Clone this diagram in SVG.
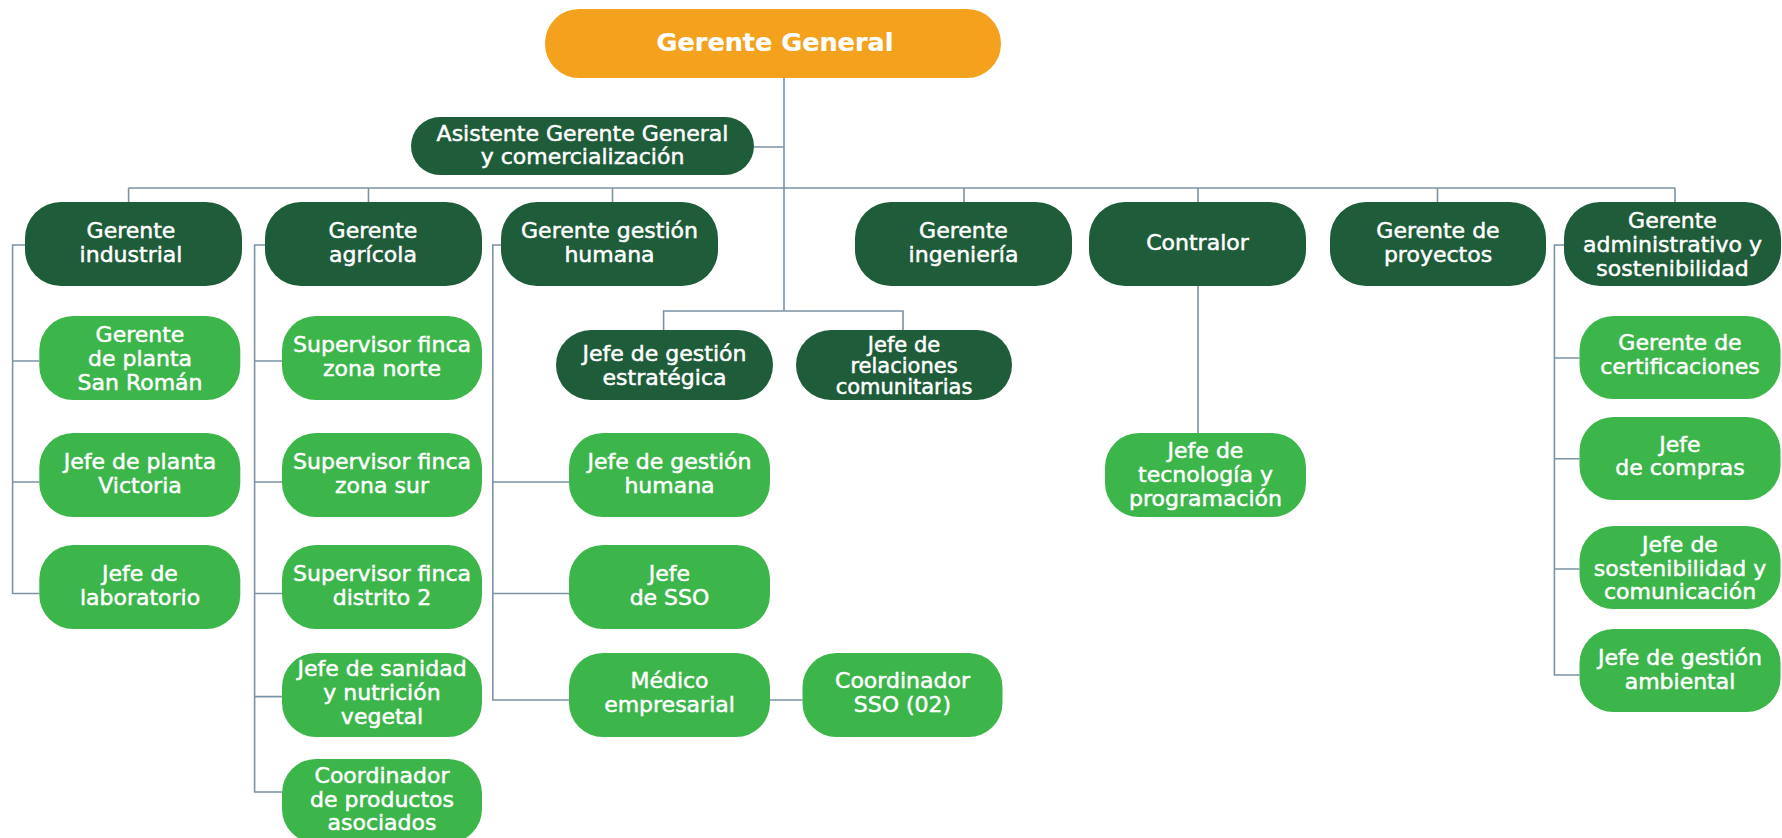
<svg xmlns="http://www.w3.org/2000/svg" width="1782" height="838" viewBox="0 0 1782 838">
<style>
.ln{fill:none;stroke:#7b93a4;stroke-width:1.6}
.top{fill:#f4a21e}
.dk{fill:#1f5c3a}
.lt{fill:#3cb54b}
text{font-family:"DejaVu Sans","Liberation Sans",sans-serif;font-size:22px;fill:#ffffff;stroke:#ffffff;stroke-width:0.5;text-anchor:middle}
.big{font-size:25.5px;font-weight:bold;stroke-width:0.2}
.tight{font-size:21px}
</style>
<rect width="1782" height="838" fill="#ffffff"/>
<g id="connectors">
<path class="ln" d="M784 78V311M754 147H784M128.6 188H1675M128.6 188V202M368.5 188V202M612.5 188V202M964 188V202M1198 188V202M1437.5 188V202M1675 188V202"/>
<path class="ln" d="M663.6 330V311H903V330"/>
<path class="ln" d="M25 245H12.6V593.5H39.3M12.6 361H39.3M12.6 482H39.3"/>
<path class="ln" d="M265 245H254.6V792H282M254.6 361H282M254.6 482H282M254.6 593.5H282M254.6 696.6H282"/>
<path class="ln" d="M501 245H492.8V700H569M492.8 482H569M492.8 593.5H569M770 700H802.5"/>
<path class="ln" d="M1198 286V433"/>
<path class="ln" d="M1564 245H1554.4V675H1579.5M1554.4 358H1579.5M1554.4 458.7H1579.5M1554.4 569H1579.5"/>
</g>
<g id="gerente-general"><rect class="top" x="545" y="9" width="456" height="69" rx="34"/><text class="big" x="775" y="51">Gerente General</text></g>
<g id="asistente"><rect class="dk" x="411" y="117" width="343" height="58" rx="29"/><text x="582.5" y="141">Asistente Gerente General</text><text x="582.5" y="164">y comercialización</text></g>
<g id="gerente-industrial"><rect class="dk" x="25" y="202" width="217" height="84" rx="36"/><text x="131" y="238">Gerente</text><text x="131" y="262">industrial</text></g>
<g id="gerente-agricola"><rect class="dk" x="265" y="202" width="217" height="84" rx="36"/><text x="373" y="238">Gerente</text><text x="373" y="262">agrícola</text></g>
<g id="gerente-gestion-humana"><rect class="dk" x="501" y="202" width="217" height="84" rx="36"/><text x="609.5" y="238">Gerente gestión</text><text x="609.5" y="262">humana</text></g>
<g id="gerente-ingenieria"><rect class="dk" x="855" y="202" width="217" height="84" rx="36"/><text x="963.5" y="238">Gerente</text><text x="963.5" y="262">ingeniería</text></g>
<g id="contralor"><rect class="dk" x="1089" y="202" width="217" height="84" rx="36"/><text x="1197.5" y="250">Contralor</text></g>
<g id="gerente-proyectos"><rect class="dk" x="1330" y="202" width="216" height="84" rx="36"/><text x="1438" y="238">Gerente de</text><text x="1438" y="262">proyectos</text></g>
<g id="gerente-administrativo"><rect class="dk" x="1564" y="202" width="217" height="84" rx="36"/><text x="1672.5" y="228">Gerente</text><text x="1672.5" y="252">administrativo y</text><text x="1672.5" y="276">sostenibilidad</text></g>
<g id="jefe-gestion-estrategica"><rect class="dk" x="556" y="330" width="217" height="70" rx="35"/><text x="664.5" y="361">Jefe de gestión</text><text x="664.5" y="385">estratégica</text></g>
<g id="jefe-relaciones"><rect class="dk" x="796" y="330" width="216" height="70" rx="35"/><text class="tight" x="904" y="352">Jefe de</text><text class="tight" x="904" y="373">relaciones</text><text class="tight" x="904" y="394">comunitarias</text></g>
<g id="gerente-planta-san-roman"><rect class="lt" x="39.3" y="316" width="201" height="84" rx="34"/><text x="140" y="342">Gerente</text><text x="140" y="366">de planta</text><text x="140" y="390">San Román</text></g>
<g id="jefe-planta-victoria"><rect class="lt" x="39.3" y="433" width="201" height="84" rx="34"/><text x="140" y="469">Jefe de planta</text><text x="140" y="493">Victoria</text></g>
<g id="jefe-laboratorio"><rect class="lt" x="39.3" y="545" width="201" height="84" rx="34"/><text x="140" y="581">Jefe de</text><text x="140" y="605">laboratorio</text></g>
<g id="supervisor-norte"><rect class="lt" x="282" y="316" width="200" height="84" rx="34"/><text x="382" y="352">Supervisor finca</text><text x="382" y="376">zona norte</text></g>
<g id="supervisor-sur"><rect class="lt" x="282" y="433" width="200" height="84" rx="34"/><text x="382" y="469">Supervisor finca</text><text x="382" y="493">zona sur</text></g>
<g id="supervisor-distrito"><rect class="lt" x="282" y="545" width="200" height="84" rx="34"/><text x="382" y="581">Supervisor finca</text><text x="382" y="605">distrito 2</text></g>
<g id="jefe-sanidad"><rect class="lt" x="282" y="653" width="200" height="84" rx="34"/><text x="382" y="676">Jefe de sanidad</text><text x="382" y="700">y nutrición</text><text x="382" y="724">vegetal</text></g>
<g id="coordinador-productos"><rect class="lt" x="282" y="759" width="200" height="84" rx="34"/><text x="382" y="783">Coordinador</text><text x="382" y="807">de productos</text><text x="382" y="830">asociados</text></g>
<g id="jefe-gestion-humana"><rect class="lt" x="569" y="433" width="201" height="84" rx="34"/><text x="669.5" y="469">Jefe de gestión</text><text x="669.5" y="493">humana</text></g>
<g id="jefe-sso"><rect class="lt" x="569" y="545" width="201" height="84" rx="34"/><text x="669.5" y="581">Jefe</text><text x="669.5" y="605">de SSO</text></g>
<g id="medico-empresarial"><rect class="lt" x="569" y="653" width="201" height="84" rx="34"/><text x="669.5" y="688">Médico</text><text x="669.5" y="712">empresarial</text></g>
<g id="coordinador-sso"><rect class="lt" x="802.5" y="653" width="200" height="84" rx="34"/><text x="902.5" y="688">Coordinador</text><text x="902.5" y="712">SSO (02)</text></g>
<g id="jefe-tecnologia"><rect class="lt" x="1105" y="433" width="201" height="84" rx="34"/><text x="1205.5" y="458">Jefe de</text><text x="1205.5" y="482">tecnología y</text><text x="1205.5" y="506">programación</text></g>
<g id="gerente-certificaciones"><rect class="lt" x="1579.5" y="316" width="201" height="83" rx="34"/><text x="1680" y="350">Gerente de</text><text x="1680" y="374">certificaciones</text></g>
<g id="jefe-compras"><rect class="lt" x="1579.5" y="417" width="201" height="83" rx="34"/><text x="1680" y="452">Jefe</text><text x="1680" y="475">de compras</text></g>
<g id="jefe-sostenibilidad"><rect class="lt" x="1579.5" y="526" width="201" height="83" rx="34"/><text x="1680" y="552">Jefe de</text><text x="1680" y="576">sostenibilidad y</text><text x="1680" y="599">comunicación</text></g>
<g id="jefe-gestion-ambiental"><rect class="lt" x="1579.5" y="629" width="201" height="83" rx="34"/><text x="1680" y="665">Jefe de gestión</text><text x="1680" y="689">ambiental</text></g>
</svg>
